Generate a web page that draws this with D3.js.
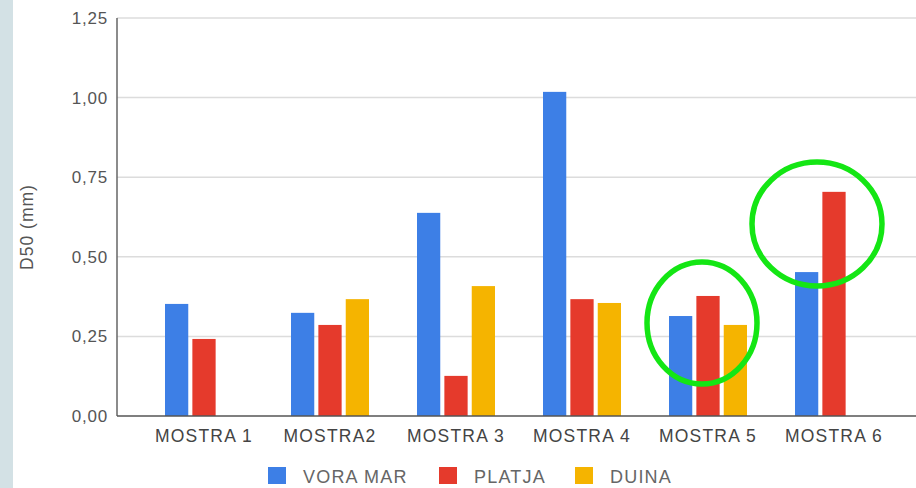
<!DOCTYPE html>
<html>
<head>
<meta charset="utf-8">
<script src="https://cdn.jsdelivr.net/npm/d3@7"></script>
<style>
  html, body { margin: 0; padding: 0; background: #fff; }
  svg { display: block; font-family: "Liberation Sans", Arial, sans-serif; }
</style>
</head>
<body>
<svg id="chart" width="916" height="488"></svg>
<script>
// D50 grain size per sample and zone
const categories = ["MOSTRA 1", "MOSTRA2", "MOSTRA 3", "MOSTRA 4", "MOSTRA 5", "MOSTRA 6"];
const seriesNames = ["VORA MAR", "PLATJA", "DUINA"];
const voraMar = [0.352, 0.324, 0.638, 1.018, 0.314, 0.452];
const platja  = [0.242, 0.286, 0.126, 0.367, 0.377, 0.704];
const duina   = [null,  0.367, 0.408, 0.355, 0.286, null];
const yTicks = [0, 0.25, 0.5, 0.75, 1.0, 1.25];
const colors = ["#3d7fe6", "#e53a2c", "#f5b400"];
// highlighted groups (category, ellipse around its bars)
const highlights = ["MOSTRA 5", "MOSTRA 6"];

const seriesValues = [voraMar, platja, duina];
const svg = d3.select("#chart");

// left page strip
svg.append("rect").attr("x", 0).attr("y", 0).attr("width", 13).attr("height", 488).attr("fill", "#d3e1e5");

const axisX = 117, plotRight = 916;
const y = d3.scaleLinear().domain([0, 1.25]).range([416, 18]);
const x0 = d3.scaleBand().domain(categories).range([141, 897]).padding(0);
const x1 = d3.scaleBand().domain(seriesNames).range([-39, 39]).paddingInner(0.15);

const fmt = v => d3.format(".2f")(v).replace(".", ",");

// gridlines
svg.append("g").selectAll("line").data(yTicks.filter(t => t > 0)).join("line")
  .attr("x1", axisX).attr("x2", plotRight)
  .attr("y1", d => y(d)).attr("y2", d => y(d))
  .attr("stroke", "#dcdcdc").attr("stroke-width", 1.5);

// tick labels
svg.append("g").selectAll("text").data(yTicks).join("text")
  .attr("x", 108).attr("y", d => y(d) + 6)
  .attr("text-anchor", "end")
  .attr("font-size", 17).attr("letter-spacing", 0.8)
  .attr("fill", "#555")
  .text(fmt);

// y title
svg.append("text")
  .attr("transform", "translate(33,227) rotate(-90)")
  .attr("text-anchor", "middle")
  .attr("font-size", 17.5).attr("letter-spacing", 1)
  .attr("fill", "#555")
  .text("D50 (mm)");

// bars
const rows = [];
categories.forEach((c, i) => seriesNames.forEach((s, j) => {
  const v = seriesValues[j][i];
  if (v != null) rows.push({ c, s, v, j });
}));
svg.append("g").selectAll("rect").data(rows).join("rect")
  .attr("x", d => x0(d.c) + x0.bandwidth() / 2 + x1(d.s))
  .attr("width", x1.bandwidth())
  .attr("y", d => y(d.v))
  .attr("height", d => y(0) - y(d.v))
  .attr("fill", d => colors[d.j]);

// axes lines
svg.append("line").attr("x1", axisX).attr("x2", axisX).attr("y1", y(1.25)).attr("y2", y(0))
  .attr("stroke", "#666").attr("stroke-width", 1.5);
svg.append("line").attr("x1", axisX).attr("x2", plotRight).attr("y1", y(0)).attr("y2", y(0))
  .attr("stroke", "#555").attr("stroke-width", 1.5);

// category labels
svg.append("g").selectAll("text").data(categories).join("text")
  .attr("x", d => x0(d) + x0.bandwidth() / 2)
  .attr("y", 442)
  .attr("text-anchor", "middle")
  .attr("font-size", 17.5).attr("letter-spacing", 1.2)
  .attr("fill", "#444")
  .text(d => d);

// legend
const legendX = [268, 439, 575];
const lg = svg.append("g").selectAll("g").data(seriesNames).join("g")
  .attr("transform", (d, i) => `translate(${legendX[i]},467)`);
lg.append("rect").attr("width", 18).attr("height", 17).attr("fill", (d, i) => colors[i]);
lg.append("text").attr("x", 35).attr("y", 16)
  .attr("font-size", 18).attr("letter-spacing", 1.2)
  .attr("fill", "#666")
  .text(d => d);

// highlight ellipses around selected groups
const ell = [{ c: "MOSTRA 5", dx: -6, cy: 323, rx: 55, ry: 61 }, { c: "MOSTRA 6", dx: -17, cy: 224, rx: 65, ry: 62 }]
  .filter(e => highlights.includes(e.c));
svg.append("g").selectAll("ellipse").data(ell).join("ellipse")
  .attr("cx", d => x0(d.c) + x0.bandwidth() / 2 + d.dx)
  .attr("cy", d => d.cy)
  .attr("rx", d => d.rx).attr("ry", d => d.ry)
  .attr("fill", "none").attr("stroke", "#14e614").attr("stroke-width", 5.5);
</script>
</body>
</html>
